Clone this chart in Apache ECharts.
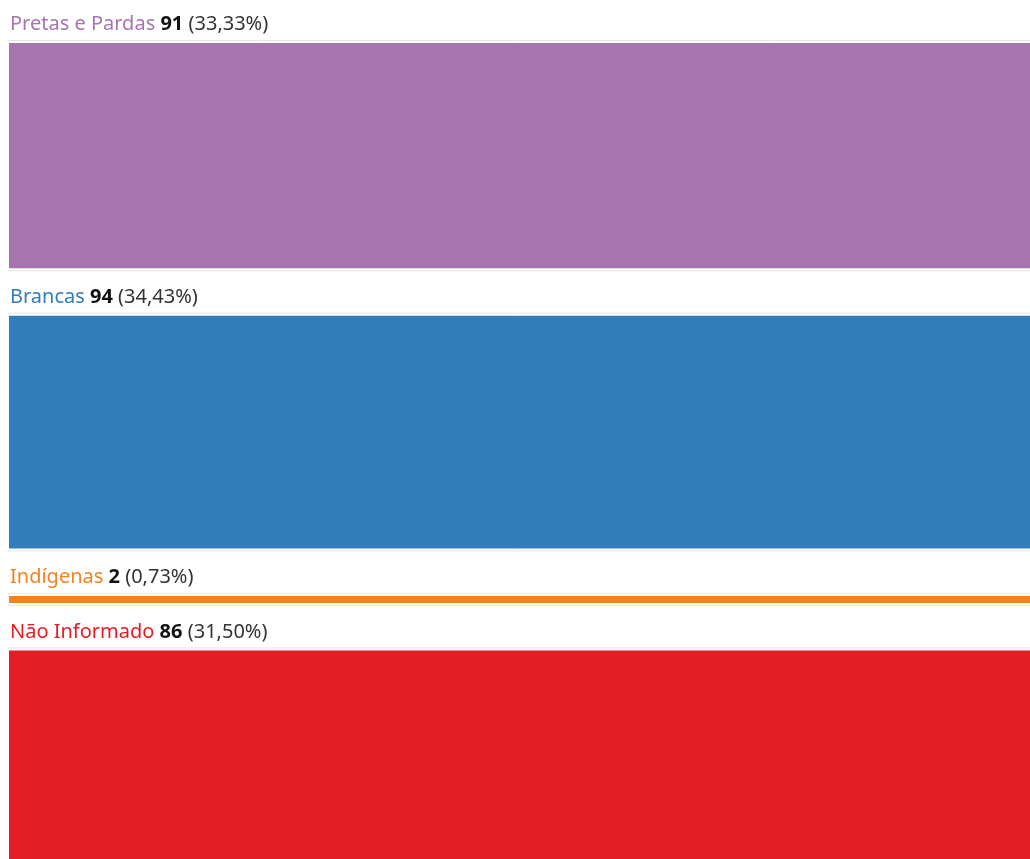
<!DOCTYPE html>
<html>
<head>
<meta charset="utf-8">
<script src="https://cdn.jsdelivr.net/npm/echarts@6/dist/echarts.min.js"></script>
<style>
html,body{margin:0;padding:0;background:#fff;}
#chart{width:1030px;height:859px;}
</style>
</head>
<body>
<div id="chart"></div>
<script>
const categories = ['Pretas e Pardas', 'Brancas', 'Indígenas', 'Não Informado'];
const values = [91, 94, 2, 86];
const colors = ['#a675b0', '#317dbb', '#f58220', '#e31d24'];

const total = values.reduce((a, b) => a + b, 0);
const PX_PER_UNIT = 2.475;
const GAP = 47.5;      // label band height between bars (px)
const MIN_H = 7;       // minimum bar thickness (px)
const TOP = 43;
const FS = 20;

let cum = 0;
const data = values.map((v, i) => {
  const item = [cum, v, i];
  cum += v;
  return item;
});

function pct(v) {
  return (v / total * 100).toFixed(2).replace('.', ',') + '%';
}

// extra pixels added by minimum bar thickness, accumulated in order
const extra = [];
function computeExtra(api) {
  if (extra.length) return;
  let acc = 0;
  values.forEach((v) => {
    extra.push(acc);
    const h = api.size([0, v])[1];
    acc += Math.max(0, MIN_H - h);
  });
}

const chart = echarts.init(document.getElementById('chart'), null, {renderer: 'canvas'});
chart.setOption({
  animation: false,
  grid: {left: 9, right: 0, top: TOP, height: total * PX_PER_UNIT, containLabel: false},
  xAxis: {type: 'value', min: 0, max: 1, show: false},
  yAxis: {type: 'value', min: 0, max: total, inverse: true, show: false},
  series: [{
    type: 'custom',
    clip: false,
    data: data,
    encode: {y: [0, 1]},
    renderItem: function (params, api) {
      computeExtra(api);
      const i = api.value(2);
      const start = api.value(0);
      const val = api.value(1);
      const p0 = api.coord([0, start]);
      const p1 = api.coord([1, start]);
      const y0 = p0[1] + i * GAP + extra[i];
      let h = api.size([0, val])[1];
      h = Math.max(h, MIN_H);
      const x0 = p0[0];
      const w = p1[0] - p0[0];
      return {
        type: 'group',
        children: [
          {type: 'line', shape: {x1: x0 - 2, y1: y0 - 2.5, x2: x0 + w, y2: y0 - 2.5},
           style: {stroke: '#e6e6e6', lineWidth: 1}},
          {type: 'line', shape: {x1: x0 - 2, y1: y0 + h + 2.5, x2: x0 + w, y2: y0 + h + 2.5},
           style: {stroke: '#e4e4e4', lineWidth: 1}},
          {type: 'rect', shape: {x: x0, y: y0, width: w, height: h},
           style: {fill: colors[i]}},
          {type: 'text', x: x0 + 1, y: y0 - 18.5,
           style: {
             text: '{n|' + categories[i] + '} {b|' + val + '} {p|(' + pct(val) + ')}',
             verticalAlign: 'middle',
             align: 'left',
             rich: {
               n: {fontFamily: 'Noto Sans', fontSize: FS, fill: colors[i], color: colors[i]},
               b: {fontFamily: 'Noto Sans', fontSize: FS, fontWeight: 'bold', fill: '#111', color: '#111'},
               p: {fontFamily: 'Noto Sans', fontSize: FS, fill: '#333', color: '#333'}
             },
             fontFamily: 'Noto Sans', fontSize: FS
           }}
        ]
      };
    }
  }]
});
</script>
</body>
</html>
